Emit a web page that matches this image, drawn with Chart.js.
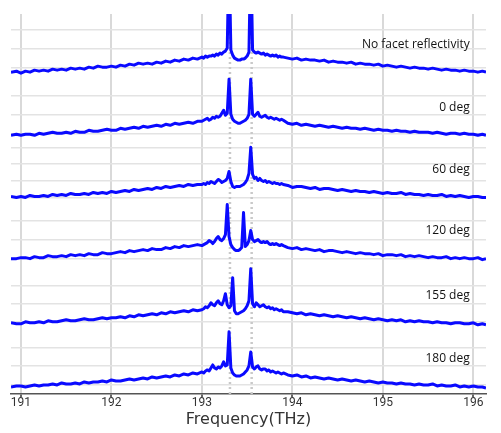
<!DOCTYPE html>
<html>
<head>
<meta charset="utf-8">
<script src="https://cdn.jsdelivr.net/npm/chart.js@4.4.1/dist/chart.umd.min.js"></script>
<style>
  html, body { margin: 0; padding: 0; background: #fff; }
  #wrap { width: 501px; height: 433px; }
</style>
</head>
<body>
<div id="wrap"><canvas id="spectra" width="501" height="433"></canvas></div>
<script>
// frequency grid (THz), finer around the two modes
const freqs = [
  190.89, 190.95, 191.00, 191.05, 191.10, 191.15, 191.20, 191.25, 191.30, 191.35, 191.40, 191.45, 191.50, 191.55,
  191.60, 191.65, 191.70, 191.75, 191.80, 191.85, 191.90, 191.95, 192.00, 192.05, 192.10, 192.15, 192.20, 192.25,
  192.30, 192.35, 192.40, 192.45, 192.50, 192.55, 192.60, 192.65, 192.70, 192.75, 192.80, 192.85, 192.90, 192.95,
  193.00, 193.02, 193.04, 193.06, 193.08, 193.10, 193.12, 193.14, 193.16, 193.18, 193.20, 193.22, 193.24, 193.26,
  193.28, 193.30, 193.32, 193.34, 193.36, 193.38, 193.40, 193.42, 193.44, 193.46, 193.48, 193.50, 193.52, 193.54,
  193.56, 193.58, 193.60, 193.62, 193.64, 193.66, 193.68, 193.70, 193.72, 193.74, 193.76, 193.78, 193.80, 193.82,
  193.84, 193.86, 193.88, 193.90,
  193.95, 194.00, 194.05, 194.10, 194.15, 194.20, 194.25, 194.30, 194.35, 194.40, 194.45, 194.50, 194.55, 194.60,
  194.65, 194.70, 194.75, 194.80, 194.85, 194.90, 194.95, 195.00, 195.05, 195.10, 195.15, 195.20, 195.25, 195.30,
  195.35, 195.40, 195.45, 195.50, 195.55, 195.60, 195.65, 195.70, 195.75, 195.80, 195.85, 195.90, 195.95, 196.00,
  196.05, 196.10, 196.14
];

// relative spectral level of each trace (a.u.)
const noFacet = [
  0,1,-1,1,0,2,1,2,1,3,2,3,2,4,3,4,3,5,4,6,5,5,6,5,7,6,8,7,9,8,9,8,10,9,11,10,12,11,13,12,14,13,
  15,14,16,15,16,16,17,16,18,17,19,18,20,21,24,120,22,17,14,13,12,12,13,13,14,16,20,120,22,20,
  19,20,19,18,19,17,18,17,16,17,16,17,15,16,15,15,
  14,13,14,12,13,12,12,11,12,10,11,10,10,9,10,8,9,8,8,7,8,6,7,6,5,6,5,4,5,4,4,3,4,3,2,3,2,2,1,2,1,1,0,1,0
];
const deg0 = [
  0,1,0,1,1,0,2,1,2,3,2,2,3,2,4,3,3,5,4,4,5,6,5,5,7,6,7,8,7,9,8,9,10,9,11,10,12,11,12,13,12,14,
  14,15,16,17,15,16,18,17,19,18,19,22,25,20,22,56,21,16,14,13,12,12,13,14,15,17,21,56,21,19,
  21,23,19,18,19,20,18,17,18,17,16,17,16,15,16,15,
  12,11,12,10,11,10,9,10,9,8,9,8,7,8,7,7,6,7,6,5,6,5,5,4,5,4,4,3,4,3,3,3,2,3,2,1,2,2,1,2,1,1,0,1,0
];
const deg60 = [
  1,0,1,0,2,1,1,2,1,3,2,3,2,4,3,3,4,3,5,4,5,4,6,5,6,7,6,8,7,8,9,8,10,9,11,10,11,12,11,13,12,13,
  13,14,13,15,14,16,15,14,16,18,17,15,16,17,19,26,16,11,10,11,11,11,12,13,15,18,24,50,23,19,
  20,17,19,17,16,17,15,16,15,14,15,14,14,13,14,13,
  12,10,11,11,10,9,10,8,9,9,8,7,8,7,6,7,6,6,5,6,5,4,5,4,4,5,3,4,3,3,2,3,2,2,3,1,2,1,2,1,0,1,1,0,0
];
const deg120 = [
  0,0,1,1,0,2,1,1,3,2,2,3,2,4,3,4,3,5,4,4,6,5,5,6,7,6,8,7,8,9,8,10,9,9,11,10,12,11,13,12,13,14,
  13,14,15,16,18,17,15,17,20,22,19,18,20,24,54,22,14,11,9,8,8,9,11,46,12,14,18,28,19,17,
  18,19,17,16,17,16,17,15,14,15,14,15,14,13,14,13,
  11,10,11,9,10,9,8,9,7,8,8,7,6,7,6,5,6,5,5,4,5,3,4,4,3,4,2,3,2,3,2,1,2,1,1,2,0,1,0,1,0,0,1,-1,0
];
const deg155 = [
  1,0,0,2,1,1,2,1,3,2,2,3,4,3,3,4,5,4,4,5,6,5,6,6,7,6,8,7,9,8,9,10,9,11,10,12,11,12,13,12,14,13,
  14,15,17,16,18,21,19,18,21,23,20,19,23,30,19,16,18,46,13,10,10,11,12,13,15,18,23,55,20,17,
  21,19,17,18,19,17,16,17,15,16,14,15,14,13,14,12,
  12,11,10,11,9,10,9,8,9,8,7,8,7,6,7,6,5,6,5,4,5,4,3,4,3,4,2,3,2,3,2,2,1,2,1,1,0,1,1,0,0,1,-1,0,-1
];
const deg180 = [
  0,1,1,0,1,2,1,2,2,3,2,4,3,3,4,3,5,4,5,5,6,5,7,6,6,7,8,7,8,9,8,10,9,10,11,10,12,11,13,12,14,13,
  15,14,16,17,16,19,22,19,18,20,19,21,25,21,22,55,19,14,12,11,11,11,12,13,15,17,21,35,20,18,
  20,21,18,17,18,18,16,17,15,16,15,14,15,14,13,14,
  12,11,12,10,11,9,10,9,8,9,8,7,8,7,6,7,6,5,6,5,4,5,4,4,3,4,3,3,2,3,2,2,3,1,2,1,1,2,0,1,0,1,0,0,-1
];

const traces = [noFacet, deg0, deg60, deg120, deg155, deg180];
const panelNames = ['No facet reflectivity', '0 deg', '60 deg', '120 deg', '155 deg', '180 deg'];
const offsets = [321, 258, 196, 135, 70, 7];          // waterfall offset of each trace
const freqTicks = [191, 192, 193, 194, 195, 196];
const gridLevels = [363, 344, 325, 297, 279, 260, 246, 230, 213, 196, 173, 154, 135, 108, 90, 72, 46, 28, 9];
const markerFreqs = [193.31, 193.55];                 // dotted mode markers

const datasets = traces.map((vals, p) => ({
  label: panelNames[p],
  data: freqs.map((f, i) => ({ x: f, y: offsets[p] + vals[i] })),
  borderColor: 'rgb(10,10,255)',
  borderWidth: 3,
  borderJoinStyle: 'round',
  pointRadius: 0,
  tension: 0,
  order: 1
}));

markerFreqs.forEach(f => {
  datasets.push({
    label: 'marker',
    data: [{ x: f, y: 0 }, { x: f, y: 379 }],
    borderColor: '#c9c9c9',
    borderWidth: 2.5,
    borderDash: [2, 3],
    pointRadius: 0,
    order: 5
  });
});

// names at the right of each trace
const panelLabels = {
  id: 'panelLabels',
  afterDatasetsDraw(chart) {
    const { ctx, scales: { x, y } } = chart;
    ctx.save();
    ctx.font = '12px "Open Sans"';
    ctx.fillStyle = '#111';
    ctx.textAlign = 'right';
    ctx.textBaseline = 'middle';
    panelNames.forEach((name, i) => {
      ctx.fillText(name, x.getPixelForValue(195.96), y.getPixelForValue(offsets[i] + 28));
    });
    ctx.restore();
  }
};

new Chart(document.getElementById('spectra').getContext('2d'), {
  type: 'line',
  data: { datasets: datasets },
  plugins: [panelLabels],
  options: {
    responsive: false,
    animation: false,
    layout: { padding: { left: 11, right: 15, top: 14, bottom: 5 } },
    plugins: { legend: { display: false }, tooltip: { enabled: false } },
    scales: {
      x: {
        type: 'linear',
        min: 190.89,
        max: 196.14,
        afterBuildTicks: s => { s.ticks = freqTicks.map(v => ({ value: v })); },
        grid: { color: '#d9d9d9', lineWidth: 2, tickLength: 3, tickColor: '#666' },
        border: { display: true, color: '#555', width: 1.5 },
        ticks: {
          padding: 0,
          color: '#333',
          font: { family: 'Roboto', size: 12, lineHeight: 1 },
          callback: v => String(v)
        },
        title: {
          display: true,
          text: 'Frequency(THz)',
          color: '#333',
          padding: { top: 3, bottom: 0 },
          font: { family: 'DejaVu Sans', size: 16, lineHeight: 1 }
        }
      },
      y: {
        min: 0,
        max: 379,
        afterBuildTicks: s => { s.ticks = gridLevels.map(v => ({ value: v })); },
        grid: { color: '#e3e3e3', lineWidth: 1.5, drawTicks: false },
        border: { display: false },
        ticks: { display: false }
      }
    }
  }
});
</script>
</body>
</html>
